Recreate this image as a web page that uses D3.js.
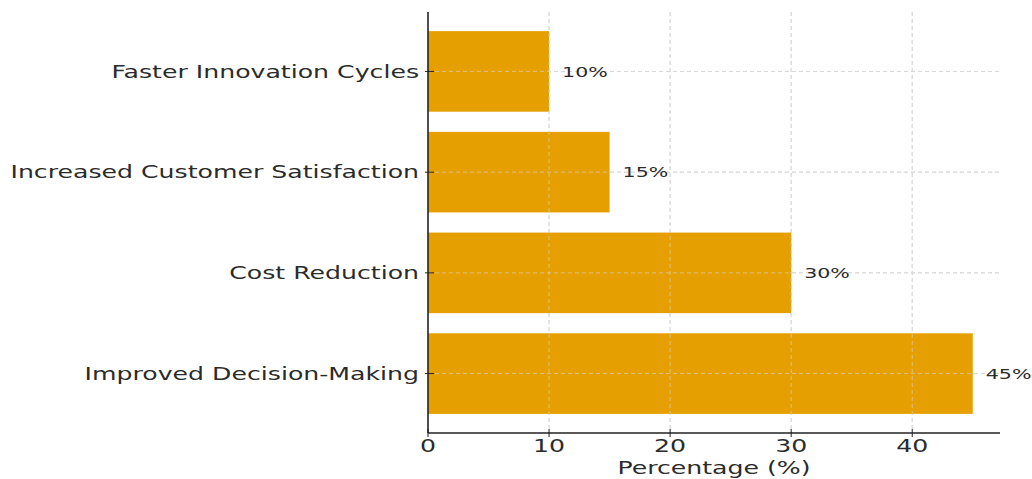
<!DOCTYPE html>
<html>
<head>
<meta charset="utf-8">
<script src="https://cdn.jsdelivr.net/npm/d3@7"></script>
<style>
  html, body { margin: 0; padding: 0; background: #fff; }
  svg { display: block; }
  text { font-family: "DejaVu Sans", sans-serif; fill: #2b2b2b; }
</style>
</head>
<body>
<svg id="chart" width="1032" height="479"></svg>
<script>
// Benefits, bottom to top
const categories = ["Improved Decision-Making", "Cost Reduction", "Increased Customer Satisfaction", "Faster Innovation Cycles"];
const percentages = [45, 30, 15, 10];
const xTicks = [0, 10, 20, 30, 40];
const xLabel = "Percentage (%)";

const W = 1032, H = 479;
const margin = { left: 428, right: 32, top: 12, bottom: 46 };
const innerW = W - margin.left - margin.right;
const innerH = H - margin.top - margin.bottom;
const barH = 0.8;
const sx = 1.40;      // wide text for axis labels
const sxVal = 1.39;   // wide text for value labels

const svg = d3.select("#chart");
const g = svg.append("g").attr("transform", `translate(${margin.left},${margin.top})`);

const xMax = d3.max(percentages) * 1.05;
const x = d3.scaleLinear().domain([0, xMax]).range([0, innerW]);
const yPad = (categories.length - 1 + barH) * 0.05;
const y = d3.scaleLinear()
  .domain([-barH / 2 - yPad, categories.length - 1 + barH / 2 + yPad])
  .range([innerH, 0]);

// grid lines
g.append("g").selectAll("line").data(xTicks.filter(t => t > 0)).join("line")
  .attr("x1", d => x(d)).attr("x2", d => x(d))
  .attr("y1", 0).attr("y2", innerH)
  .attr("stroke", "#d3d3d3").attr("stroke-width", 1).attr("stroke-dasharray", "4,3");
g.append("g").selectAll("line").data(categories).join("line")
  .attr("x1", 0).attr("x2", innerW)
  .attr("y1", (d, i) => y(i)).attr("y2", (d, i) => y(i))
  .attr("stroke", "#d3d3d3").attr("stroke-width", 1).attr("stroke-dasharray", "4,3");

// bars
const bh = y(0) - y(barH);
g.append("g").selectAll("rect").data(percentages).join("rect")
  .attr("x", x(0))
  .attr("y", (d, i) => y(i + barH / 2))
  .attr("width", d => x(d) - x(0))
  .attr("height", bh)
  .attr("fill", "#E69F00");

// faint grid over the bars
g.append("g").selectAll("line").data(categories).join("line")
  .attr("x1", 0).attr("x2", innerW)
  .attr("y1", (d, i) => y(i)).attr("y2", (d, i) => y(i))
  .attr("stroke", "#d9d9d9").attr("stroke-opacity", 0.6).attr("stroke-width", 1).attr("stroke-dasharray", "4,3");
g.append("g").selectAll("line").data(xTicks.filter(t => t > 0)).join("line")
  .attr("x1", d => x(d)).attr("x2", d => x(d))
  .attr("y1", 0).attr("y2", innerH)
  .attr("stroke", "#d9d9d9").attr("stroke-opacity", 0.6).attr("stroke-width", 1).attr("stroke-dasharray", "4,3");

// value labels
g.append("g").selectAll("text").data(percentages).join("text")
  .attr("transform", (d, i) => `translate(${x(d) + 13},${y(i)}) scale(${sxVal},1)`)
  .attr("dy", "0.35em")
  .attr("font-size", 14.8)
  .text(d => d + "%");

// axes
const xAxis = g.append("g").attr("transform", `translate(0,${innerH})`);
xAxis.append("line").attr("x1", 0).attr("x2", innerW).attr("stroke", "#222").attr("stroke-width", 1.3);
xAxis.selectAll("line.tick").data(xTicks).join("line").attr("class", "tick")
  .attr("x1", d => x(d)).attr("x2", d => x(d)).attr("y1", -4).attr("y2", 4)
  .attr("stroke", "#222").attr("stroke-width", 1);
xAxis.selectAll("text").data(xTicks).join("text")
  .attr("transform", d => `translate(${x(d)},19) scale(${sx},1)`)
  .attr("text-anchor", "middle")
  .attr("font-size", 18)
  .text(d => d);
g.append("text")
  .attr("transform", `translate(${innerW / 2},${innerH + 41}) scale(${sx},1)`)
  .attr("text-anchor", "middle")
  .attr("font-size", 18)
  .text(xLabel);

const yAxis = g.append("g");
yAxis.append("line").attr("x1", 0).attr("x2", 0).attr("y1", 0).attr("y2", innerH).attr("stroke", "#222").attr("stroke-width", 1.6);
yAxis.selectAll("line.tick").data(categories).join("line").attr("class", "tick")
  .attr("x1", -3).attr("x2", 6).attr("y1", (d, i) => y(i)).attr("y2", (d, i) => y(i))
  .attr("stroke", "#222").attr("stroke-width", 1);
yAxis.selectAll("text").data(categories).join("text")
  .attr("transform", (d, i) => `translate(-9,${y(i)}) scale(${sx},1)`)
  .attr("text-anchor", "end")
  .attr("dy", "0.35em")
  .attr("font-size", 18)
  .text(d => d);
</script>
</body>
</html>
